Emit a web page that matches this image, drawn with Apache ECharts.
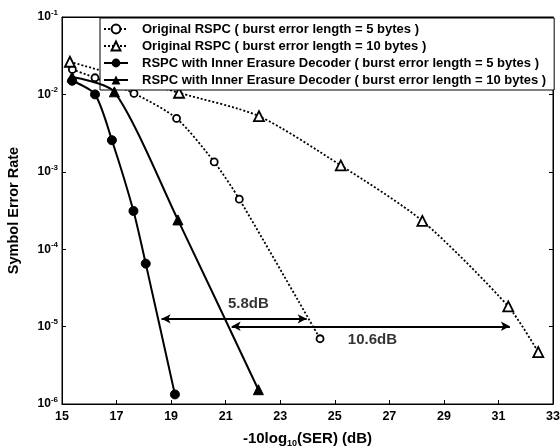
<!DOCTYPE html>
<html>
<head>
<meta charset="utf-8">
<script src="https://cdn.jsdelivr.net/npm/echarts@6/dist/echarts.min.js"></script>
<style>html,body{margin:0;padding:0;background:#fff}#c{width:560px;height:447px}</style>
</head>
<body>
<div id="c"></div>
<script>
// ---- data ----
const seriesNames = [
  'Original RSPC ( burst error length = 5 bytes )',
  'Original RSPC ( burst error length = 10 bytes )',
  'RSPC with Inner Erasure Decoder ( burst error length = 5 bytes )',
  'RSPC with Inner Erasure Decoder ( burst error length = 10 bytes )'
];
const orig5X  = [15.38, 16.21, 17.64, 19.20, 20.58, 21.50, 24.46];
const orig5Y  = [0.0210, 0.0164, 0.0103, 0.0049, 0.00134, 4.43e-4, 6.97e-6];
const orig10X = [15.29, 19.29, 22.22, 25.22, 28.21, 31.36, 32.46];
const orig10Y = [0.0264, 0.0105, 0.00523, 0.00121, 2.32e-4, 1.82e-5, 4.68e-6];
const inner5X = [15.37, 16.21, 16.83, 17.62, 18.07, 19.14];
const inner5Y = [0.0150, 0.0100, 0.00256, 3.12e-4, 6.51e-5, 1.33e-6];
const inner10X = [15.37, 16.92, 19.25, 22.20];
const inner10Y = [0.0168, 0.0108, 2.39e-4, 1.53e-6];
const xTicks = [15, 17, 19, 21, 23, 25, 27, 29, 31, 33];
const yTickExps = [-6, -5, -4, -3, -2, -1];
// gain annotations
const gainLabels = ['5.8dB', '10.6dB'];
const arrowY = [1.26e-5, 1.01e-5];
const arrowFrom = [18.65, 21.22];
const arrowTo = [23.97, 31.42];
const labelX = [21.85, 26.40];
const labelY = [1.94e-5, 6.62e-6];

const zip = (xs, ys) => xs.map((x, i) => [x, ys[i]]);
const font = 'Arial, "Liberation Sans", sans-serif';
const supRich = {
  b: { fontSize: 12, fontWeight: 'bold', fontFamily: font, color: '#000' },
  s: { fontSize: 8, fontWeight: 'bold', fontFamily: font, color: '#000', padding: [0, 0, 9, 0] }
};

const chart = echarts.init(document.getElementById('c'), null, { renderer: 'canvas' });
const dotted = { color: '#000', width: 1.8, type: [2, 2] };
const solid = { color: '#000', width: 2 };

const option = {
  animation: false,
  backgroundColor: '#fff',
  grid: { left: 62, right: 7, top: 17, bottom: 43, outerBoundsMode: 'none', containLabel: false,
    show: true, borderColor: '#000', borderWidth: 1 },
  legend: {
    data: seriesNames,
    orient: 'vertical',
    left: 100, top: 18,
    itemGap: 3, itemWidth: 24, itemHeight: 11,
    backgroundColor: '#fff', borderColor: '#000', borderWidth: 1,
    padding: [4, 8, 3, 3],
    textStyle: { fontFamily: font, fontWeight: 'bold', fontSize: 13, lineHeight: 14, color: '#000', padding: [0, 0, 0, 9] }
  },
  xAxis: [{
    type: 'value', min: xTicks[0], max: xTicks[xTicks.length - 1], interval: 2,
    name: '-10log{sub|10}(SER) (dB)', nameLocation: 'middle', nameGap: 26,
    nameTextStyle: { fontFamily: font, fontWeight: 'bold', fontSize: 15, color: '#000',
      rich: { sub: { fontFamily: font, fontWeight: 'bold', fontSize: 9, color: '#000', padding: [9, 0, 0, 0] } } },
    axisLine: { lineStyle: { color: '#000', width: 1 } },
    axisTick: { inside: true, length: 4, lineStyle: { color: '#000' } },
    axisLabel: { fontFamily: font, fontWeight: 'bold', fontSize: 12.5, color: '#000', margin: 6 },
    splitLine: { show: false }
  }, {
    type: 'value', position: 'top', min: xTicks[0], max: xTicks[xTicks.length - 1], interval: 2,
    axisLine: { lineStyle: { color: '#000' } },
    axisTick: { inside: true, length: 4, lineStyle: { color: '#000' } },
    axisLabel: { show: false }, splitLine: { show: false }
  }],
  yAxis: [{
    type: 'log', logBase: 10, min: Math.pow(10, yTickExps[0]), max: Math.pow(10, yTickExps[yTickExps.length - 1]),
    name: 'Symbol Error Rate', nameLocation: 'middle', nameGap: 41,
    nameTextStyle: { fontFamily: font, fontWeight: 'bold', fontSize: 14.5, color: '#000' },
    axisLine: { lineStyle: { color: '#000', width: 1 } },
    axisTick: { inside: true, length: 4, lineStyle: { color: '#000' } },
    axisLabel: {
      margin: 4, rich: supRich,
      formatter: v => '{b|10}{s|' + Math.round(Math.log10(v)) + '}'
    },
    splitLine: { show: false }
  }, {
    type: 'log', logBase: 10, position: 'right', min: Math.pow(10, yTickExps[0]), max: Math.pow(10, yTickExps[yTickExps.length - 1]),
    axisLine: { lineStyle: { color: '#000' } },
    axisTick: { inside: true, length: 4, lineStyle: { color: '#000' } },
    axisLabel: { show: false }, splitLine: { show: false }
  }],
  series: [
    { name: seriesNames[0], type: 'line', data: zip(orig5X, orig5Y), smooth: 0.25,
      symbol: 'circle', symbolSize: 7, showAllSymbol: true,
      itemStyle: { color: '#fff', borderColor: '#000', borderWidth: 1.8 }, lineStyle: dotted, z: 3 },
    { name: seriesNames[1], type: 'line', data: zip(orig10X, orig10Y), smooth: 0.25,
      symbol: 'triangle', symbolSize: 10,
      itemStyle: { color: '#fff', borderColor: '#000', borderWidth: 1.8 }, lineStyle: dotted, z: 3 },
    { name: seriesNames[2], type: 'line', data: zip(inner5X, inner5Y), smooth: 0.25,
      symbol: 'circle', symbolSize: 9,
      itemStyle: { color: '#000', borderColor: '#000' }, lineStyle: solid, z: 4 },
    { name: seriesNames[3], type: 'line', data: zip(inner10X, inner10Y), smooth: 0.25,
      symbol: 'triangle', symbolSize: 10,
      itemStyle: { color: '#000', borderColor: '#000' }, lineStyle: solid, z: 4 },
    { name: 'gain', type: 'scatter', symbolSize: 1, silent: true, z: 5,
      itemStyle: { color: 'rgba(0,0,0,0)' },
      data: gainLabels.map((t, i) => ({ value: [labelX[i], labelY[i]], name: t })),
      label: { show: true, position: [0, 0], align: 'center', verticalAlign: 'middle', formatter: p => p.name,
        fontFamily: font, fontWeight: 'bold', fontSize: 15, color: '#000', textBorderWidth: 0 },
      markLine: {
        silent: true, symbol: ['arrow', 'arrow'], symbolSize: [7, 9],
        label: { show: false },
        lineStyle: { color: '#000', width: 2, type: 'solid' },
        data: arrowY.map((y, i) => [{ coord: [arrowFrom[i], y] }, { coord: [arrowTo[i], y] }])
      }
    }
  ]
};
chart.setOption(option);
</script>
</body>
</html>
